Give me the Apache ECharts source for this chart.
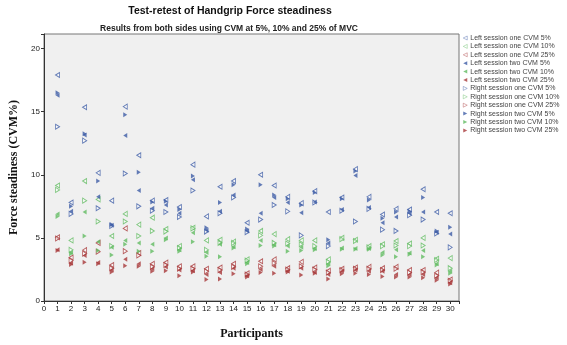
<!DOCTYPE html>
<html>
<head>
<meta charset="utf-8">
<script src="https://cdn.jsdelivr.net/npm/echarts@6/dist/echarts.min.js"></script>
<style>
  html, body { margin: 0; padding: 0; background: #fff; }
  #chart { width: 567px; height: 345px; }
</style>
</head>
<body>
<div id="chart"></div>
<script>
// participants on the x axis
const participants = [1, 2, 3, 4, 5, 6, 7, 8, 9, 10, 11, 12, 13, 14, 15, 16, 17, 18, 19, 20, 21, 22, 23, 24, 25, 26, 27, 28, 29, 30]
const yTicks = [0, 5, 10, 15, 20]

// CVM 5%
const leftOne5 = [17.9, 7.8, 15.35, 10.15, 7.95, 15.4, 11.55, 7.95, 8.0, 7.45, 10.8, 6.7, 9.05, 9.5, 6.2, 10.0, 9.15, 8.25, 7.75, 8.7, 7.05, 8.2, 10.45, 8.25, 6.85, 7.3, 7.25, 8.85, 7.05, 6.95]
const rightTwo5 = [16.5, 7.5, 13.25, 9.5, 6.05, 14.75, 10.2, 7.85, 7.9, 7.25, 9.9, 5.8, 7.8, 9.2, 5.7, 9.2, 8.4, 8.1, 7.6, 8.6, 4.85, 8.1, 10.3, 8.0, 6.55, 7.05, 7.1, 8.2, 5.55, 5.85]
const leftTwo5 = [16.3, 7.1, 13.15, 8.25, 6.0, 13.1, 8.75, 7.35, 7.6, 6.95, 9.6, 5.6, 7.1, 8.4, 5.55, 6.95, 8.2, 7.8, 7.0, 7.85, 4.6, 7.25, 9.95, 7.4, 6.2, 6.65, 6.95, 7.05, 5.45, 5.3]
const rightOne5 = [13.8, 6.9, 12.7, 7.35, 5.95, 10.1, 7.5, 7.15, 7.05, 6.65, 8.75, 5.5, 6.95, 8.2, 5.45, 6.45, 7.6, 7.1, 5.2, 7.8, 4.35, 7.15, 6.3, 7.3, 5.65, 5.55, 6.8, 6.45, 5.35, 4.25]
// CVM 10%
const leftOne10 = [9.15, 4.8, 9.5, 8.05, 5.15, 6.9, 6.05, 6.6, 5.7, 4.35, 5.8, 4.8, 4.85, 4.7, 3.3, 5.55, 5.3, 4.9, 4.8, 4.8, 3.3, 5.0, 4.85, 4.35, 4.5, 4.75, 4.55, 5.0, 3.35, 3.4]
const rightOne10 = [8.8, 4.05, 7.95, 6.3, 4.35, 6.3, 5.15, 5.55, 5.5, 4.2, 5.75, 4.05, 4.6, 4.6, 3.2, 5.2, 4.6, 4.55, 4.5, 4.35, 3.1, 4.9, 4.75, 4.25, 4.35, 4.4, 4.35, 4.4, 3.25, 2.6]
const leftTwo10 = [6.9, 3.85, 7.05, 4.7, 4.25, 4.8, 4.6, 4.5, 5.0, 4.05, 5.4, 3.85, 4.5, 4.3, 3.05, 4.8, 4.45, 4.35, 4.25, 4.15, 2.95, 4.2, 4.15, 4.15, 3.85, 4.05, 3.8, 4.0, 2.95, 2.35]
const rightTwo10 = [6.7, 3.75, 5.15, 4.0, 3.65, 4.5, 3.95, 3.95, 4.85, 3.95, 4.7, 3.55, 3.5, 4.2, 2.95, 4.4, 4.35, 3.95, 4.0, 4.05, 2.8, 4.1, 4.1, 4.1, 3.65, 3.5, 3.7, 3.5, 2.85, 2.2]
// CVM 25%
const leftOne25 = [5.05, 3.45, 4.03, 4.6, 2.85, 5.75, 3.8, 2.95, 3.05, 2.75, 2.75, 2.55, 2.65, 2.95, 2.2, 3.15, 3.3, 2.6, 3.1, 2.65, 2.4, 2.55, 2.65, 2.7, 2.6, 2.7, 2.45, 2.45, 2.25, 1.7]
const rightOne25 = [4.95, 3.2, 3.75, 3.9, 2.6, 3.95, 3.6, 2.7, 2.85, 2.55, 2.55, 2.35, 2.45, 2.7, 2.1, 2.75, 3.0, 2.5, 2.75, 2.5, 2.25, 2.45, 2.55, 2.55, 2.45, 2.55, 2.25, 2.3, 2.0, 1.6]
const leftTwo25 = [4.05, 3.0, 3.6, 3.05, 2.45, 3.3, 2.95, 2.55, 2.7, 2.45, 2.4, 2.1, 2.25, 2.6, 2.0, 2.5, 2.75, 2.35, 2.6, 2.25, 2.1, 2.35, 2.45, 2.35, 2.35, 2.1, 2.1, 2.1, 1.85, 1.45]
const rightTwo25 = [4.0, 2.9, 3.06, 2.95, 2.3, 2.8, 2.75, 2.35, 2.4, 2.0, 2.3, 1.7, 1.75, 2.15, 1.9, 2.25, 2.2, 2.3, 2.05, 2.2, 1.75, 2.15, 2.2, 2.1, 1.95, 1.9, 1.9, 1.85, 1.65, 1.35]

const BLUE = '#3d5ca6'
const GREEN = '#62bb62'
const RED = '#a8383a'
const LEFT_ICON = 'path://M0,5L10,0L10,10Z'
const RIGHT_ICON = 'path://M10,5L0,0L0,10Z'

function mk (name, values, color, side, hollow) {
  return {
    name: name,
    type: 'scatter',
    symbol: side === 'left' ? LEFT_ICON : RIGHT_ICON,
    symbolSize: [4, 5],
    data: participants.map((p, i) => [p, values[i]]),
    itemStyle: hollow
      ? { color: 'rgba(255,255,255,0.6)', borderColor: color, borderWidth: 0.9 }
      : { color: color },
    z: hollow ? 2 : 3
  }
}

const series = [
  mk('Left session one CVM 5%', leftOne5, BLUE, 'left', true),
  mk('Left session one CVM 10%', leftOne10, GREEN, 'left', true),
  mk('Left session one CVM 25%', leftOne25, RED, 'left', true),
  mk('Left session two CVM 5%', leftTwo5, BLUE, 'left', false),
  mk('Left session two CVM 10%', leftTwo10, GREEN, 'left', false),
  mk('Left session two CVM 25%', leftTwo25, RED, 'left', false),
  mk('Right session one CVM 5%', rightOne5, BLUE, 'right', true),
  mk('Right session one CVM 10%', rightOne10, GREEN, 'right', true),
  mk('Right session one CVM 25%', rightOne25, RED, 'right', true),
  mk('Right session two CVM 5%', rightTwo5, BLUE, 'right', false),
  mk('Right session two CVM 10%', rightTwo10, GREEN, 'right', false),
  mk('Right session two CVM 25%', rightTwo25, RED, 'right', false)
]

const myChart = echarts.init(document.getElementById('chart'))
const option = {
  animation: false,
  backgroundColor: '#fff',
  title: [{
    text: 'Test-retest of Handgrip Force steadiness',
    left: 225,
    top: 1,
    textAlign: 'center',
    textStyle: { fontFamily: 'Liberation Sans', fontSize: 10.5, fontWeight: 'bold', color: '#111' }
  }, {
    text: 'Results from both sides using CVM at 5%, 10% and 25% of MVC',
    left: 224,
    top: 19,
    textAlign: 'center',
    textStyle: { fontFamily: 'Liberation Sans', fontSize: 8.5, fontWeight: 'bold', color: '#222' }
  }],
  legend: {
    orient: 'vertical',
    left: 463,
    top: 34,
    padding: 0,
    itemWidth: 4,
    itemHeight: 5,
    itemGap: 0.4,
    itemStyle: { borderWidth: 0.5 },
    textStyle: { fontFamily: 'Liberation Sans', fontSize: 7, lineHeight: 8, color: '#444', padding: [0, 0, 0, -2] },
    data: series.map(s => ({ name: s.name, icon: s.symbol }))
  },
  grid: {
    left: 40,
    right: 108,
    top: 34,
    bottom: 36,
    show: true,
    backgroundColor: '#f0f0f0',
    borderColor: '#777',
    borderWidth: 1
  },
  xAxis: {
    type: 'value',
    min: 0,
    max: 30.65,
    interval: 1,
    name: 'Participants',
    nameLocation: 'middle',
    nameGap: 27,
    nameTextStyle: { fontFamily: 'Liberation Serif', fontSize: 12, fontWeight: 'bold', color: '#111' },
    axisLine: { lineStyle: { color: '#333' } },
    axisTick: { length: 3, lineStyle: { color: '#333' } },
    axisLabel: {
      margin: 4,
      fontFamily: 'Liberation Sans',
      fontSize: 8,
      color: '#222',
      formatter: v => (Number.isInteger(v) ? String(v) : '')
    },
    splitLine: { show: false }
  },
  yAxis: {
    type: 'value',
    min: 0,
    max: 21.15,
    interval: 5,
    name: 'Force steadiness (CVM%)',
    nameLocation: 'middle',
    nameRotate: 90,
    nameGap: 24,
    nameTextStyle: { fontFamily: 'Liberation Serif', fontSize: 12, fontWeight: 'bold', color: '#111' },
    axisLine: { show: true, lineStyle: { color: '#333' } },
    axisTick: { show: true, length: 3, lineStyle: { color: '#333' } },
    axisLabel: {
      margin: 4,
      fontFamily: 'Liberation Sans',
      fontSize: 8,
      color: '#222',
      formatter: v => (yTicks.indexOf(v) >= 0 ? String(v) : '')
    },
    splitLine: { show: false }
  },
  series: series
}
myChart.setOption(option)
</script>
</body>
</html>
